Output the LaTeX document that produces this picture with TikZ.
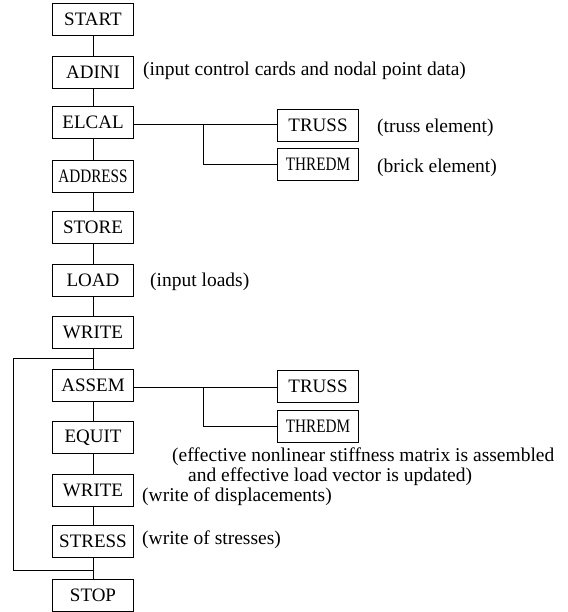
\documentclass[tikz,border=0pt]{standalone}
\usepackage{fontspec}
\setmainfont{Liberation Serif}
\newfontfamily\narrowfont[FakeStretch=0.8]{Liberation Serif}
\begin{document}
\begin{tikzpicture}[x=1pt,y=-1pt,
  box/.style={draw, line width=0.8pt, minimum width=81pt, minimum height=32pt, inner sep=0pt, font=\fontsize{19}{21}\selectfont},
  nbox/.style={box, font=\fontsize{19}{21}\selectfont\narrowfont},
  lbl/.style={anchor=west, inner sep=0pt, font=\fontsize{19.5}{22}\selectfont},
  conn/.style={line width=0.9pt}]
\useasboundingbox (0,0) rectangle (567,612);
% main column
\node[box] (start)   at (93,19)  {START};
\node[box] (adini)   at (93,72)  {ADINI};
\node[box] (elcal)   at (93,122) {ELCAL};
\node[nbox] (address) at (93,176.5) {ADDRESS};
\node[box] (store)   at (93,227.5) {STORE};
\node[box] (load)    at (93,280.5) {LOAD};
\node[box] (writea)  at (93,332.5) {WRITE};
\node[box] (assem)   at (93,385.5) {ASSEM};
\node[box] (equit)   at (93,437.5) {EQUIT};
\node[box] (writeb)  at (93,490.5) {WRITE};
\node[box] (stress)  at (93,541) {STRESS};
\node[box] (stop)    at (93,595) {STOP};
% branch boxes
\node[box] (trussa)  at (318,125.5) {TRUSS};
\node[nbox] (thredma) at (318,164.5) {THREDM};
\node[box] (trussb)  at (318,386.5) {TRUSS};
\node[nbox] (thredmb) at (318,426) {THREDM};
% labels
\node[lbl] (ladini) at (143,71) {(input control cards and nodal point data)};
\node[lbl] (ltruss) at (377,128) {(truss element)};
\node[lbl] (lbrick) at (377,168) {(brick element)};
\node[lbl] (lload)  at (150,282) {(input loads)};
\node[lbl] (leff1)  at (172,457) {(effective nonlinear stiffness matrix is assembled};
\node[lbl] (leff2)  at (188,477) {and effective load vector is updated)};
\node[lbl] (ldisp)  at (142,497) {(write of displacements)};
\node[lbl] (lstr)   at (142,540) {(write of stresses)};
% main connectors
\draw[conn] (start) -- (adini);
\draw[conn] (adini) -- (elcal);
\draw[conn] (elcal) -- (address);
\draw[conn] (address) -- (store);
\draw[conn] (store) -- (load);
\draw[conn] (load) -- (writea);
\draw[conn] (writea) -- (assem);
\draw[conn] (assem) -- (equit);
\draw[conn] (equit) -- (writeb);
\draw[conn] (writeb) -- (stress);
\draw[conn] (stress) -- (stop);
% branches
\coordinate (ja) at (203,124);
\draw[conn] (elcal.east |- ja) -- (trussa.west |- ja);
\draw[conn] (ja) |- (thredma.west);
\coordinate (jb) at (203,387);
\draw[conn] (assem.east |- jb) -- (trussb.west |- jb);
\draw[conn] (jb) |- (thredmb.west);
% feedback loop
\coordinate (la) at (93,358);
\coordinate (lb) at (93,570);
\coordinate (ca) at (13,358);
\coordinate (cb) at (13,570);
\draw[conn] (la) -- (ca) -- (cb) -- (lb);
\end{tikzpicture}
\end{document}
